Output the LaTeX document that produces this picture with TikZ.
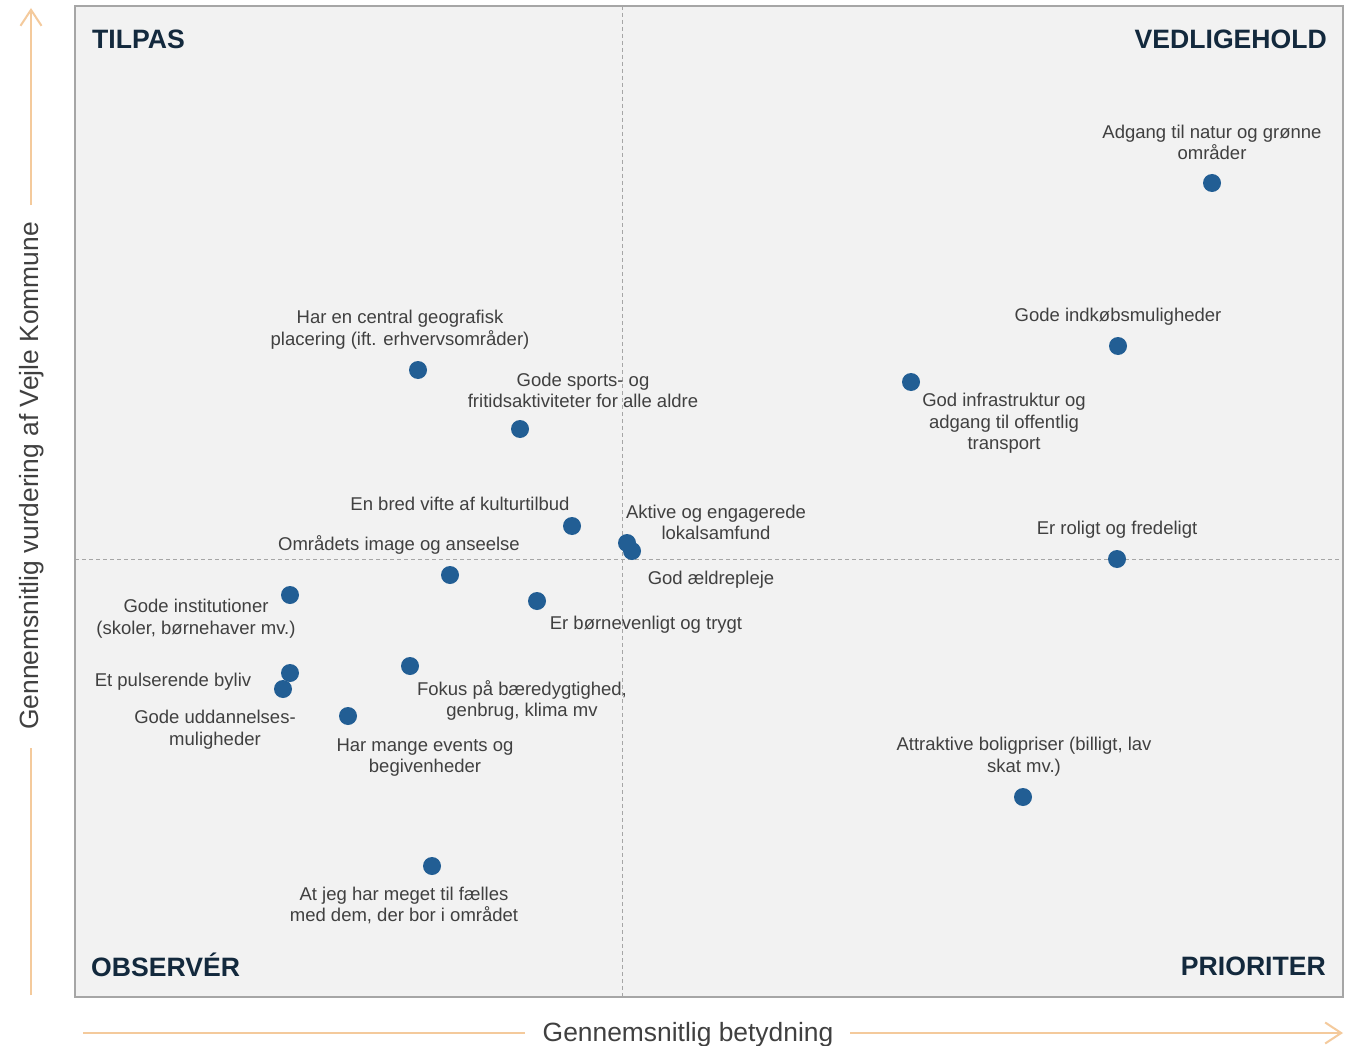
\documentclass[tikz,border=0pt]{standalone}
\usepackage{fontspec}
\setmainfont{Liberation Sans}
\usetikzlibrary{arrows.meta}
\definecolor{bgc}{RGB}{242,242,242}
\definecolor{framec}{RGB}{166,166,166}
\definecolor{dotc}{RGB}{34,94,148}
\definecolor{txtc}{RGB}{64,64,64}
\definecolor{quadc}{RGB}{19,41,61}
\definecolor{axc}{RGB}{244,202,156}
\tikzset{
  dotmark/.style={circle,fill=dotc,draw=none,minimum size=18pt,inner sep=0pt},
  lab/.style={text=txtc,font=\fontsize{18.5}{21.5}\selectfont,align=center,inner sep=0pt,yshift=-1.5pt},
  quad/.style={text=quadc,font=\fontsize{26.6}{30}\selectfont\bfseries,inner sep=0pt},
  axlab/.style={text=txtc,font=\fontsize{26.4}{30}\selectfont,inner sep=0pt},
  axline/.style={draw=axc,line width=2pt},
  axarrow/.style={axline,-{Straight Barb[length=16pt,width=21pt]}},
  midline/.style={draw=framec,line width=1pt,dash pattern=on 4pt off 3pt}
}
\begin{document}
\begin{tikzpicture}[x=1pt,y=-1pt]
\useasboundingbox (0,0) rectangle (1350,1046);
\fill[white] (0,0) rectangle (1350,1046);
% plot area
\fill[bgc] (75,6) rectangle (1343,997);
\coordinate (mt) at (622,6);
\coordinate (mb) at (622,997);
\coordinate (ml) at (75,559);
\coordinate (mr) at (1343,559);
\draw[midline] (mt) -- (mb);
\draw[midline] (ml) -- (mr);
\draw[framec,line width=2pt] (75,6) rectangle (1343,997);
% quadrant labels
\node[quad,anchor=base west] (qtl) at (92,49) {TILPAS};
\node[quad,anchor=base east] (qtr) at (1327,49) {VEDLIGEHOLD};
\node[quad,anchor=base west] (qbl) at (91,976) {OBSERVÉR};
\node[quad,anchor=base east] (qbr) at (1326,975) {PRIORITER};
% axes
\node[axlab,anchor=base] (xlab) at (688,1041) {Gennemsnitlig betydning};
\node[axlab,rotate=90] (ylab) at (32,476) {Gennemsnitlig vurdering af Vejle Kommune};
\coordinate (xa0) at (83,1033);
\coordinate (xa1) at (525,1033);
\coordinate (xa2) at (850,1033);
\coordinate (xa3) at (1343,1033);
\draw[axline] (xa0) -- (xa1);
\draw[axarrow] (xa2) -- (xa3);
\coordinate (ya0) at (31,995);
\coordinate (ya1) at (31,748);
\coordinate (ya2) at (31,205);
\coordinate (ya3) at (31,8);
\draw[axline] (ya0) -- (ya1);
\draw[axarrow] (ya2) -- (ya3);
% labels
\node[lab] (l1) at (1212,141) {Adgang til natur og grønne\\områder};
\node[lab] (l2) at (1118,315) {Gode indkøbsmuligheder};
\node[lab] (l3) at (1004,422) {God infrastruktur og\\adgang til offentlig\\transport};
\node[lab] (l4) at (1117,528) {Er roligt og fredeligt};
\node[lab] (l5) at (1024,755) {Attraktive boligpriser (billigt, lav\\skat mv.)};
\node[lab] (l6) at (400,328) {Har en central geografisk\\placering (ift. erhvervsområder)};
\node[lab] (l7) at (583,389) {Gode sports- og\\fritidsaktiviteter for alle aldre};
\node[lab] (l8) at (460,502) {En bred vifte af kulturtilbud};
\node[lab] (l9) at (716,521) {Aktive og engagerede\\lokalsamfund};
\node[lab] (l10) at (711,578) {God ældrepleje};
\node[lab] (l11) at (399,543) {Områdets image og anseelse};
\node[lab] (l12) at (646,623) {Er børnevenligt og trygt};
\node[lab] (l13) at (196,617) {Gode institutioner\\(skoler, børnehaver mv.)};
\node[lab] (l14) at (173,680) {Et pulserende byliv};
\node[lab] (l15) at (215,728) {Gode uddannelses-\\muligheder};
\node[lab] (l16) at (522,699) {Fokus på bæredygtighed,\\genbrug, klima mv};
\node[lab] (l17) at (425,756) {Har mange events og\\begivenheder};
\node[lab] (l18) at (404,904) {At jeg har meget til fælles\\med dem, der bor i området};
% dots
\node[dotmark] (d1) at (1212,183) {};
\node[dotmark] (d2) at (1118,346) {};
\node[dotmark] (d3) at (911,382) {};
\node[dotmark] (d4) at (1117,559) {};
\node[dotmark] (d5) at (1023,797) {};
\node[dotmark] (d6) at (418,370) {};
\node[dotmark] (d7) at (520,429) {};
\node[dotmark] (d8) at (572,526) {};
\node[dotmark] (d9) at (627,543) {};
\node[dotmark] (d10) at (632,551) {};
\node[dotmark] (d11) at (450,575) {};
\node[dotmark] (d12) at (537,601) {};
\node[dotmark] (d13) at (290,595) {};
\node[dotmark] (d14) at (290,673) {};
\node[dotmark] (d15) at (283,689) {};
\node[dotmark] (d16) at (410,666) {};
\node[dotmark] (d17) at (348,716) {};
\node[dotmark] (d18) at (432,866) {};
\end{tikzpicture}
\end{document}
